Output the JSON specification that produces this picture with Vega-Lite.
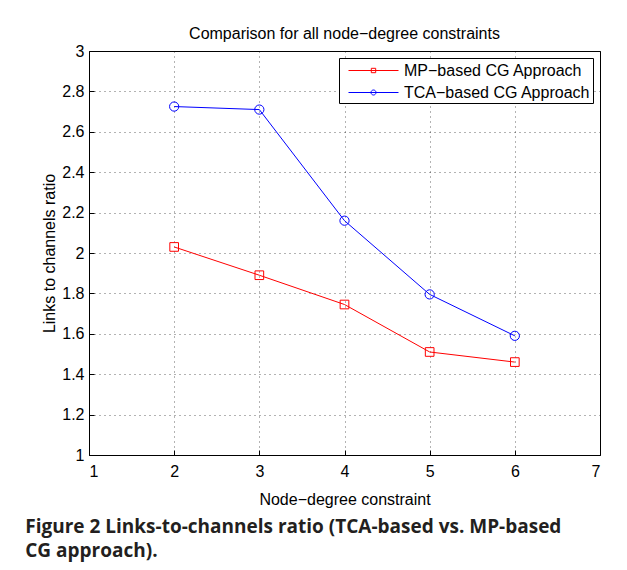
{
  "$schema": "https://vega.github.io/schema/vega-lite/v6.json",
  "background": "white",
  "padding": {"left": 25, "top": 25, "right": 5, "bottom": 5},
  "title": {
    "text": ["Figure 2 Links-to-channels ratio (TCA-based vs. MP-based", "CG approach)."],
    "orient": "bottom",
    "anchor": "start",
    "font": "Open Sans",
    "fontSize": 19,
    "fontWeight": "bold",
    "color": "#231f20",
    "lineHeight": 24,
    "offset": 10,
    "dx": -16
  },
  "datasets": {
    "ratios": [
      {"degree": 2, "ratio": 2.03, "series": "MP−based CG Approach"},
      {"degree": 3, "ratio": 1.89, "series": "MP−based CG Approach"},
      {"degree": 4, "ratio": 1.745, "series": "MP−based CG Approach"},
      {"degree": 5, "ratio": 1.51, "series": "MP−based CG Approach"},
      {"degree": 6, "ratio": 1.46, "series": "MP−based CG Approach"},
      {"degree": 2, "ratio": 2.725, "series": "TCA−based CG Approach"},
      {"degree": 3, "ratio": 2.71, "series": "TCA−based CG Approach"},
      {"degree": 4, "ratio": 2.16, "series": "TCA−based CG Approach"},
      {"degree": 5, "ratio": 1.795, "series": "TCA−based CG Approach"},
      {"degree": 6, "ratio": 1.59, "series": "TCA−based CG Approach"}
    ]
  },
  "vconcat": [
    {
      "width": 511,
      "height": 404,
      "title": {
        "text": "Comparison for all node−degree constraints",
        "font": "Arial",
        "fontSize": 16,
        "fontWeight": "normal",
        "color": "black",
        "offset": 1
      },
      "data": {"name": "ratios"},
      "encoding": {
        "x": {
          "field": "degree",
          "type": "quantitative",
          "scale": {"domain": [1, 7], "nice": false},
          "axis": {"values": [1, 2, 3, 4, 5, 6, 7], "title": "Node−degree constraint", "titlePadding": 12}
        },
        "y": {
          "field": "ratio",
          "type": "quantitative",
          "scale": {"domain": [1, 3], "nice": false, "zero": false},
          "axis": {"values": [1, 1.2, 1.4, 1.6, 1.8, 2, 2.2, 2.4, 2.6, 2.8, 3], "format": "~g", "title": "Links to channels ratio", "titlePadding": 4, "labelPadding": 10}
        }
      },
      "layer": [
        {
          "mark": {"type": "line", "strokeWidth": 1},
          "encoding": {
            "color": {
              "field": "series",
              "type": "nominal",
              "scale": {"domain": ["MP−based CG Approach", "TCA−based CG Approach"], "range": ["#ff0000", "#0000ff"]},
              "legend": {
                "title": null,
                "symbolType": "M-2.5,0H2.5",
                "labelLimit": 400,
                "encode": {
                  "symbols": {
                    "update": {
                      "shape": {"signal": "datum.value == 'MP−based CG Approach' ? 'M-2.5,0H2.5M-0.22,-0.22H0.22V0.22H-0.22Z' : 'M-2.5,0H2.5M-0.25,0A0.25,0.25 0 1,0 0.25,0A0.25,0.25 0 1,0 -0.25,0Z'"},
                      "fill": {"value": "transparent"}
                    }
                  }
                }
              }
            }
          }
        },
        {
          "transform": [{"filter": "datum.series == 'MP−based CG Approach'"}],
          "mark": {"type": "point", "shape": "square", "filled": false, "size": 75, "strokeWidth": 1, "opacity": 1, "color": "#ff0000"}
        },
        {
          "transform": [{"filter": "datum.series == 'TCA−based CG Approach'"}],
          "mark": {"type": "point", "shape": "circle", "filled": false, "size": 85, "strokeWidth": 1, "opacity": 1, "color": "#0000ff"}
        }
      ]
    }
  ],
  "config": {
    "view": {"stroke": "black", "strokeWidth": 1},
    "axis": {
      "labelFont": "Arial",
      "labelFontSize": 16,
      "labelColor": "black",
      "titleFont": "Arial",
      "titleFontSize": 16,
      "titleFontWeight": "normal",
      "titleColor": "black",
      "domain": false,
      "tickColor": "black",
      "tickSize": -5,
      "labelPadding": 13,
      "gridColor": "#000000",
      "gridDash": [1, 4],
      "gridOpacity": 0.6
    },
    "legend": {
      "orient": "top-right",
      "offset": 7,
      "strokeColor": "black",
      "fillColor": "white",
      "padding": 2,
      "labelFont": "Arial",
      "labelFontSize": 16,
      "labelColor": "black",
      "symbolSize": 400,
      "symbolStrokeWidth": 1,
      "symbolOpacity": 1,
      "symbolOffset": 22,
      "labelOffset": 20,
      "rowPadding": 3,
      "cornerRadius": 0
    }
  }
}
